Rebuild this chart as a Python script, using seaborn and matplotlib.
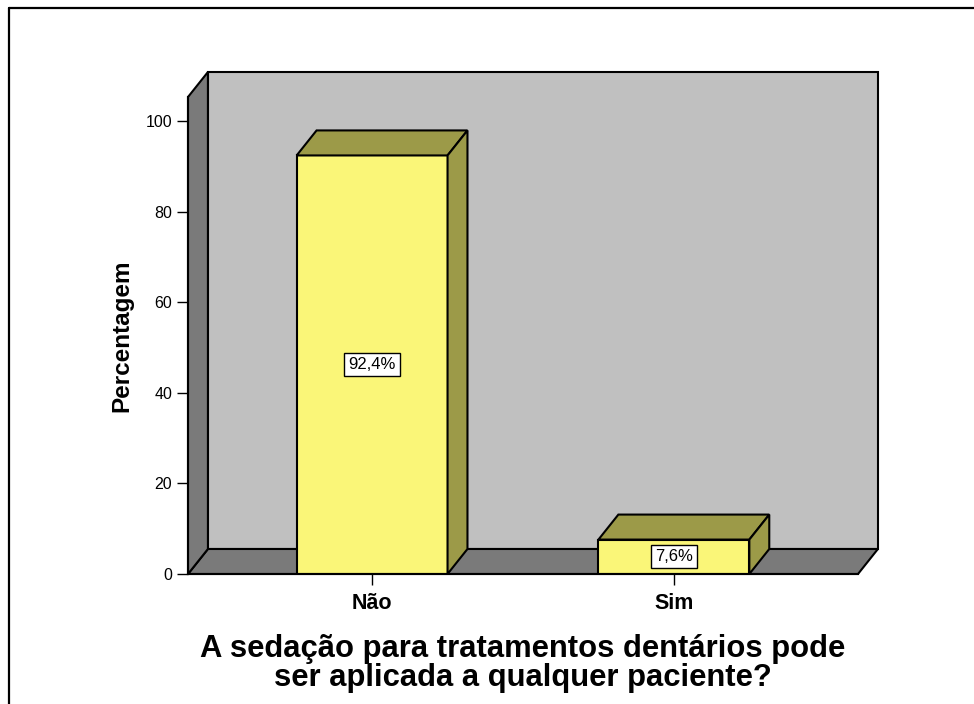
import matplotlib
matplotlib.use("Agg")
import matplotlib.pyplot as plt
from matplotlib.patches import Polygon
from matplotlib.lines import Line2D
import pandas as pd
import seaborn as sns

# Dados
categorias = ["Não", "Sim"]
percentagens = [92.4, 7.6]
rotulos = ["92,4%", "7,6%"]
y_ticks = [0, 20, 40, 60, 80, 100]

sns.set_style("white")
plt.rcParams["font.family"] = ["Liberation Sans", "DejaVu Sans"]
plt.rcParams["text.color"] = "black"
plt.rcParams["axes.labelcolor"] = "black"
plt.rcParams["xtick.color"] = "black"
plt.rcParams["ytick.color"] = "black"

df = pd.DataFrame({"resposta": categorias, "pct": percentagens})

fig = plt.figure(figsize=(9.74, 7.04), dpi=100)
ax = fig.add_axes([188 / 974, 130 / 704, 670 / 974, 477 / 704])
ax.patch.set_alpha(0)

x0, x1 = -0.61, 1.61
ytop = 105.3
dx, dy = 0.066, 5.52

# paredes do "3D"
parede = "#c0c0c0"
escuro = "#7a7a7a"
kw = dict(edgecolor="black", linewidth=1.5, clip_on=False, zorder=0)
ax.add_patch(Polygon([(x0 + dx, dy), (x1 + dx, dy), (x1 + dx, ytop + dy), (x0 + dx, ytop + dy)],
                     facecolor=parede, **kw))
ax.add_patch(Polygon([(x0, 0), (x1, 0), (x1 + dx, dy), (x0 + dx, dy)], facecolor=escuro, **kw))
ax.add_patch(Polygon([(x0, 0), (x0 + dx, dy), (x0 + dx, ytop + dy), (x0, ytop)], facecolor=escuro, **kw))

sns.barplot(data=df, x="resposta", y="pct", color="#faf678", saturation=1,
            edgecolor="black", linewidth=1.5, width=0.5, ax=ax, zorder=2)

oliva = "#9c9a48"
for p, lab in zip(ax.patches[3:], rotulos):
    bx, bw, bh = p.get_x(), p.get_width(), p.get_height()
    ax.add_patch(Polygon([(bx, bh), (bx + bw, bh), (bx + bw + dx, bh + dy), (bx + dx, bh + dy)],
                         facecolor=oliva, edgecolor="black", linewidth=1.5, zorder=2, clip_on=False))
    ax.add_patch(Polygon([(bx + bw, 0), (bx + bw + dx, dy), (bx + bw + dx, bh + dy), (bx + bw, bh)],
                         facecolor=oliva, edgecolor="black", linewidth=1.5, zorder=2, clip_on=False))
    ax.text(bx + bw / 2, bh / 2, lab, ha="center", va="center", fontsize=12, zorder=5,
            bbox=dict(boxstyle="square,pad=0.25", facecolor="white", edgecolor="black", linewidth=1))

ax.set_xlim(x0, x1)
ax.set_ylim(0, ytop)
ax.set_yticks(y_ticks)
ax.tick_params(axis="both", direction="out", length=8, width=1, color="black", left=True, bottom=True)
ax.tick_params(axis="y", labelsize=11.5)
ax.tick_params(axis="x", labelsize=15.5, pad=6)
for t in ax.get_xticklabels():
    t.set_fontweight("bold")
for s in ["top", "right"]:
    ax.spines[s].set_visible(False)
for s in ["left", "bottom"]:
    ax.spines[s].set_color("black")
    ax.spines[s].set_linewidth(1.5)
    ax.spines[s].set_zorder(3)

ax.set_ylabel("Percentagem", fontsize=17.5, fontweight="bold", labelpad=9)
ax.set_xlabel("A sedação para tratamentos dentários pode\nser aplicada a qualquer paciente?",
              fontsize=22.3, fontweight="bold", labelpad=14, linespacing=0.95)

# moldura
fig.add_artist(Line2D([8.5 / 974, 1], [1 - 7.5 / 704, 1 - 7.5 / 704], color="black", linewidth=1.6))
fig.add_artist(Line2D([8.5 / 974, 8.5 / 974], [0, 1 - 7.5 / 704], color="black", linewidth=1.6))

plt.savefig("out.png", dpi=100)
